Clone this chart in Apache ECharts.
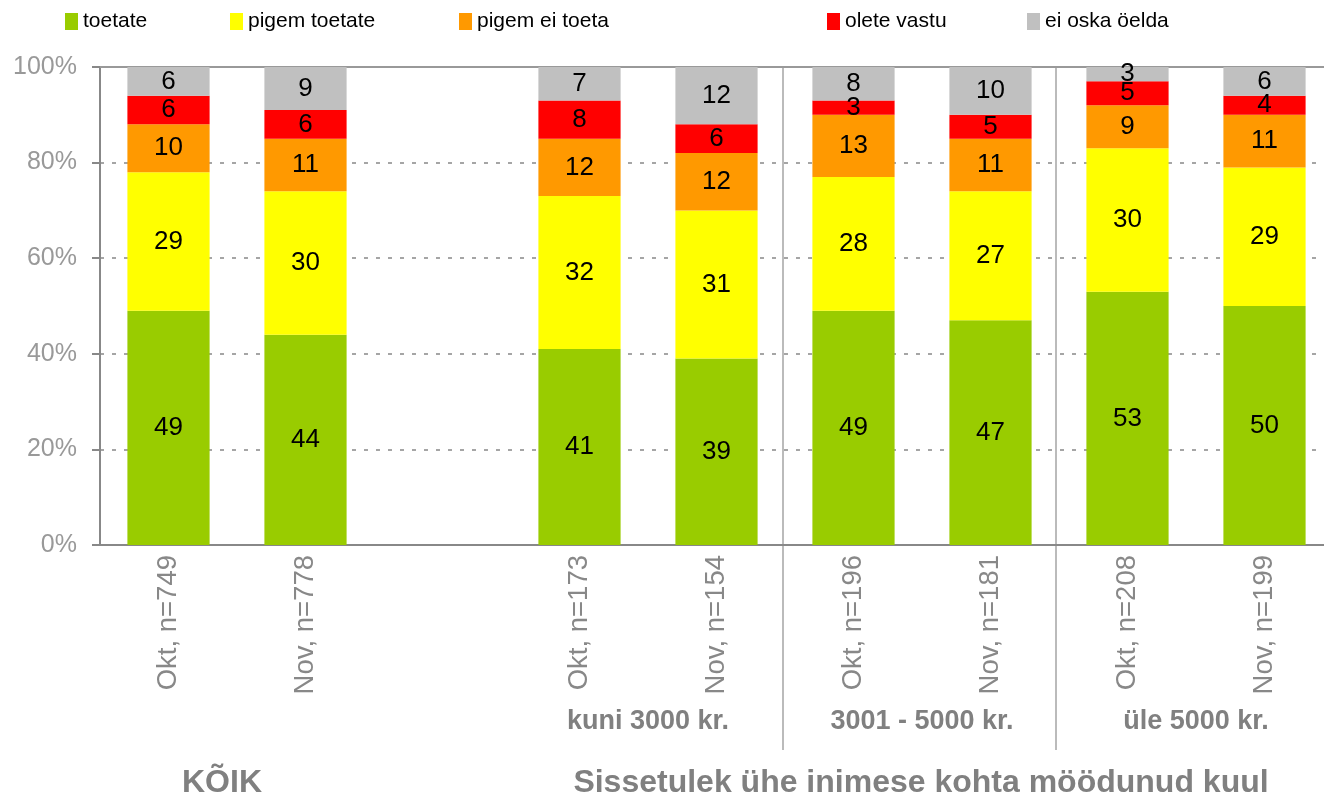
<!DOCTYPE html>
<html>
<head>
<meta charset="utf-8">
<script src="https://cdn.jsdelivr.net/npm/echarts@6/dist/echarts.min.js"></script>
<style>
	html, body { margin: 0; padding: 0; background: #fff; }
	#main { width: 1324px; height: 798px; }
</style>
</head>
<body>
<div id="main"></div>
<script>
// andmed
var categories = ['Okt, n=749', 'Nov, n=778', '', 'Okt, n=173', 'Nov, n=154', 'Okt, n=196', 'Nov, n=181', 'Okt, n=208', 'Nov, n=199'];
var toetate = [49, 44, null, 41, 39, 49, 47, 53, 50];
var pigemToetate = [29, 30, null, 32, 31, 28, 27, 30, 29];
var pigemEiToeta = [10, 11, null, 12, 12, 13, 11, 9, 11];
var oleteVastu = [6, 6, null, 8, 6, 3, 5, 5, 4];
var eiOska = [6, 9, null, 7, 12, 8, 10, 3, 6];
var groupLabels = ['kuni 3000 kr.', '3001 - 5000 kr.', 'üle 5000 kr.'];

var font = "'Liberation Sans', Arial, sans-serif";
var gridLeft = 100, gridTop = 67, gridW = 1233, gridH = 478;
var band = gridW / categories.length;

var myChart = echarts.init(document.getElementById('main'));

function makeSeries(name, data, color) {
	return {
		name: name,
		type: 'bar',
		stack: 'kokku',
		data: data,
		barWidth: '60%',
		itemStyle: { color: color },
		label: {
			show: true,
			position: 'inside',
			color: '#000',
			fontSize: 26,
			fontFamily: font
		}
	};
}

function makeLegend(name, left) {
	return {
		data: [name],
		left: left,
		top: 6,
		icon: 'rect',
		itemWidth: 13,
		itemHeight: 17,
		textStyle: { fontSize: 21, color: '#000', fontFamily: font }
	};
}

// eraldusjooned gruppide vahel
var sepX = [gridLeft + band * 5 - 2, gridLeft + band * 7 - 3];
var graphics = [];
sepX.forEach(function(x) {
	graphics.push({
		type: 'line',
		shape: { x1: x, y1: gridTop, x2: x, y2: 750 },
		style: { stroke: '#bbb', lineWidth: 2 },
		z: 0
	});
});
var groupCenters = [gridLeft + band * 4, gridLeft + band * 6, gridLeft + band * 8];
groupLabels.forEach(function(t, i) {
	graphics.push({
		type: 'text',
		x: groupCenters[i],
		y: 722,
		style: { text: t, fill: '#808080', font: 'bold 27px ' + font, textAlign: 'center', textVerticalAlign: 'middle' }
	});
});
graphics.push({
	type: 'text',
	x: 222,
	y: 783,
	style: { text: 'KÕIK', fill: '#808080', font: 'bold 32px ' + font, textAlign: 'center', textVerticalAlign: 'middle' }
});
graphics.push({
	type: 'text',
	x: 921,
	y: 783,
	style: { text: 'Sissetulek ühe inimese kohta möödunud kuul', fill: '#808080', font: 'bold 32px ' + font, textAlign: 'center', textVerticalAlign: 'middle' }
});

var option = {
	animation: false,
	textStyle: { fontFamily: font },
	legend: [
		makeLegend('toetate', 60),
		makeLegend('pigem toetate', 225),
		makeLegend('pigem ei toeta', 454),
		makeLegend('olete vastu', 822),
		makeLegend('ei oska öelda', 1022)
	],
	grid: { left: gridLeft, top: gridTop, width: gridW, height: gridH, outerBoundsMode: 'none' },
	xAxis: [{
		type: 'category',
		data: categories,
		axisLine: { lineStyle: { color: '#888', width: 2 } },
		axisTick: { length: 9, lineStyle: { color: '#888', width: 2 } },
		axisLabel: {
			rotate: 90,
			margin: 10,
			color: '#888',
			fontSize: 27.5,
			fontFamily: font,
			interval: 0
		}
	}, {
		type: 'category',
		position: 'top',
		data: categories,
		axisLine: { lineStyle: { color: '#999', width: 2 } },
		axisTick: { show: false },
		axisLabel: { show: false }
	}],
	yAxis: {
		type: 'value',
		min: 0,
		max: 100,
		interval: 20,
		axisLine: { show: true, lineStyle: { color: '#888', width: 2 } },
		axisTick: { show: true, length: 8, lineStyle: { color: '#888', width: 2 } },
		axisLabel: {
			formatter: '{value}%',
			color: '#999',
			fontSize: 25,
			fontFamily: font,
			margin: 23
		},
		splitLine: { lineStyle: { color: '#888', type: [4, 8], width: 1.5 } }
	},
	series: [
		makeSeries('toetate', toetate, '#99CC00'),
		makeSeries('pigem toetate', pigemToetate, '#FFFF00'),
		makeSeries('pigem ei toeta', pigemEiToeta, '#FF9900'),
		makeSeries('olete vastu', oleteVastu, '#FF0000'),
		makeSeries('ei oska öelda', eiOska, '#C0C0C0')
	],
	graphic: graphics
};

myChart.setOption(option);
</script>
</body>
</html>
